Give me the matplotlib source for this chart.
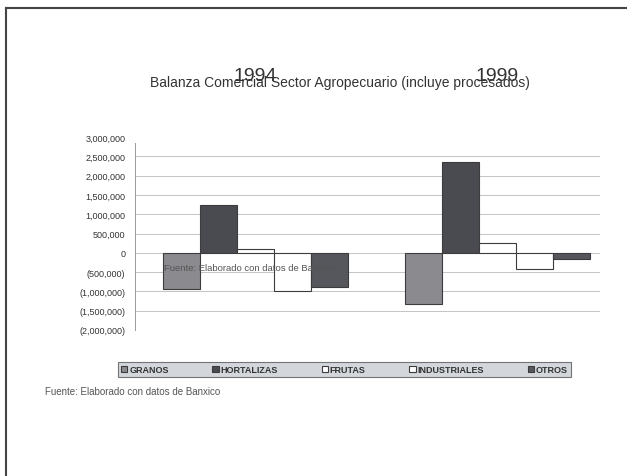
import matplotlib.pyplot as plt
import numpy as np
from matplotlib.lines import Line2D
from matplotlib.ticker import FuncFormatter

plt.rcParams['font.family'] = ['Liberation Sans', 'DejaVu Sans']

# datos (miles de dolares aprox.)
years = ['1994', '1999']
series = ['GRANOS', 'HORTALIZAS', 'FRUTAS', 'INDUSTRIALES', 'OTROS']
granos = [-930000, -1320000]
hortalizas = [1250000, 2360000]
frutas = [100000, 260000]
industriales = [-1000000, -415000]
otros = [-880000, -170000]
values = [granos, hortalizas, frutas, industriales, otros]
colors = ['#8a8a8f', '#4a4a51', '#ffffff', '#ffffff', '#56565d']

fig = plt.figure(figsize=(6.27, 4.77), dpi=100)
ax = fig.add_axes([135/627, 1-331/477, 465/627, 193/477])

x = np.arange(len(years))
w = 37/242
for i, (name, vals) in enumerate(zip(series, values)):
    ax.bar(x + (i-2)*w, vals, w, color=colors[i], edgecolor='#3c3c3c',
           linewidth=0.8, label=name, zorder=3)

ax.set_xlim(-120/242, 345/242)
ax.set_ylim(-2000000, 3000000)
ax.set_yticks(np.arange(-2000000, 3000001, 500000))

def fmt(v, pos):
    if v < 0:
        return '({:,.0f})'.format(-v)
    return '{:,.0f}'.format(v)
ax.yaxis.set_major_formatter(FuncFormatter(fmt))
ax.tick_params(axis='y', length=0, pad=7, labelsize=6.5, labelcolor='#333333')
for lab in ax.get_yticklabels():
    lab.set_family(['Liberation Sans Narrow', 'Liberation Sans'])

# años arriba, como en el original
ax.xaxis.tick_top()
ax.set_xticks(x)
ax.set_xticklabels(years)
ax.tick_params(axis='x', length=0, pad=38, labelsize=14, labelcolor='#333333')

ax.grid(axis='y', color='#c4c4c4', linewidth=0.7, zorder=0)
gl = ax.yaxis.get_gridlines()
gl[0].set_visible(False)
gl[-1].set_visible(False)

for s in ['top', 'right', 'bottom']:
    ax.spines[s].set_visible(False)
ax.spines['left'].set_color('#9a9a9a')
ax.spines['left'].set_linewidth(0.7)
ax.spines['left'].set_bounds(-2000000, 2850000)

fig.text(340/627, 1-83/477, 'Balanza Comercial Sector Agropecuario (incluye procesados)',
         ha='center', va='center', fontsize=10, color='#333333')

ax.text(0 - 2.5*w + 0.005, -380000, 'Fuente: Elaborado con datos de Banxico',
        fontsize=6.8, color='#555555', va='center', zorder=4)

fig.text(45/627, 1-392/477, 'Fuente: Elaborado con datos de Banxico',
         fontsize=7, color='#555555', va='center')

leg = fig.legend(loc='lower left', bbox_to_anchor=(118/627, 1-378/477, 453/627, 16/477),
                 mode='expand', ncol=5, fontsize=6.5, frameon=True, fancybox=False,
                 handlelength=0.7, handleheight=0.7, handletextpad=0.2,
                 borderpad=0.35, borderaxespad=0)
leg.get_frame().set_facecolor('#c9ccd3')
leg.get_frame().set_edgecolor('#555555')
leg.get_frame().set_linewidth(0.8)
for t in leg.get_texts():
    t.set_fontweight('bold')
    t.set_color('#333333')

# marco del documento
fig.add_artist(Line2D([6/627, 1], [1-9/477, 1-9/477], color='#444444', linewidth=1.5))
fig.add_artist(Line2D([6/627, 6/627], [0, 1-9/477], color='#444444', linewidth=1.5))

fig.savefig('out.png', dpi=100, facecolor='white')
